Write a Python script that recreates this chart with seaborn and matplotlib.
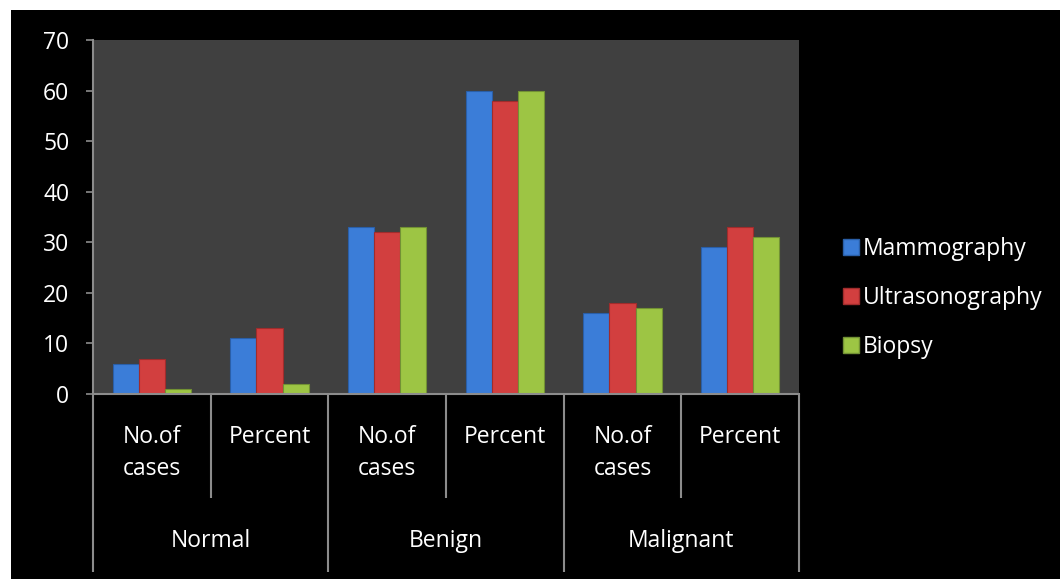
import matplotlib
matplotlib.use("Agg")
import matplotlib.pyplot as plt
import matplotlib.transforms as mtransforms
from matplotlib.patches import Rectangle
from matplotlib.lines import Line2D
import seaborn as sns
import pandas as pd

# ---- data ----
groups = ["Normal", "Benign", "Malignant"]
subcats = ["No.of\ncases", "Percent"]
methods = ["Mammography", "Ultrasonography", "Biopsy"]
mammography = [6, 11, 33, 60, 16, 29]
ultrasonography = [7, 13, 32, 58, 18, 33]
biopsy = [1, 2, 33, 60, 17, 31]
yticks = [0, 10, 20, 30, 40, 50, 60, 70]

colors = ["#3B7DD8", "#D23F3F", "#9DC544"]
edge_colors = ["#2A5FA8", "#A02C2C", "#729134"]

cats = [f"{g}|{s}" for g in groups for s in subcats]
rows = []
for m, vals in zip(methods, [mammography, ultrasonography, biopsy]):
    for c, v in zip(cats, vals):
        rows.append({"cat": c, "method": m, "value": v})
df = pd.DataFrame(rows)

sns.set_theme(style="dark")
plt.rcParams["font.family"] = ["Open Sans", "DejaVu Sans"]
FS = 16.5

W, H = 1060, 579
fig = plt.figure(figsize=(W / 100, H / 100), dpi=100)
fig.patch.set_facecolor("white")
fig.patches.append(Rectangle((11 / W, 0), 1 - 11 / W, 1 - 10 / H,
                             transform=fig.transFigure, facecolor="black",
                             edgecolor="none", zorder=-5))

ax = fig.add_axes([93 / W, 1 - 394 / H, (799 - 93) / W, (394 - 40) / H])
ax.set_zorder(1)
ax.set_facecolor("#404040")

sns.barplot(data=df, x="cat", y="value", hue="method", order=cats,
            hue_order=methods, palette=colors, width=0.665, ax=ax,
            legend=False, errorbar=None, saturation=1)
for i, cont in enumerate(ax.containers):
    for bar in cont:
        bar.set_edgecolor(edge_colors[i])
        bar.set_linewidth(0.8)

ax.set_ylim(0, 70)
ax.set_xlim(-0.5, len(cats) - 0.5)
ax.set_yticks(yticks)
ax.set_yticklabels([str(t) for t in yticks], color="white", fontsize=FS)
ax.tick_params(axis="y", length=5, width=1.2, color="#8C8C8C", pad=12, left=True)
ax.set_xticks([])
ax.set_xlabel("")
ax.set_ylabel("")
ax.grid(False)
for side in ["top", "right"]:
    ax.spines[side].set_visible(False)
for side in ["left", "bottom"]:
    ax.spines[side].set_visible(True)
    ax.spines[side].set_color("#8C8C8C")
    ax.spines[side].set_linewidth(1.5)

trans = mtransforms.blended_transform_factory(ax.transData, ax.transAxes)
ax_h = (394 - 40)
def ay(py):
    return (394 - py) / ax_h

# separators
for k in range(len(cats) + 1):
    xb = k - 0.5
    if k % 2 == 0:
        y0 = ay(572)
    else:
        y0 = ay(498)
    ax.plot([xb, xb], [0, y0], transform=trans, color="#8C8C8C", lw=1.5,
            clip_on=False, solid_capstyle="butt")

# sub labels
for k, c in enumerate(cats):
    sub = c.split("|")[1]
    ax.text(k, ay(425), sub, transform=trans, ha="center", va="top",
            color="white", fontsize=FS, linespacing=1.45)

# group labels
for gi, g in enumerate(groups):
    ax.text(2 * gi + 0.5, ay(541), g, transform=trans, ha="center",
            va="center", color="white", fontsize=FS)

handles = [Line2D([], [], marker="s", linestyle="none", markersize=11,
                  markerfacecolor=colors[i], markeredgecolor=edge_colors[i])
           for i in range(3)]
leg = fig.legend(handles, methods, loc="center left",
                 bbox_to_anchor=(830 / W, 1 - 298 / H), frameon=False,
                 fontsize=FS, labelspacing=1.07, handlelength=0.8,
                 handletextpad=0.15, borderpad=0)
for t in leg.get_texts():
    t.set_color("white")

fig.savefig("out.png", dpi=100, facecolor=fig.get_facecolor())
